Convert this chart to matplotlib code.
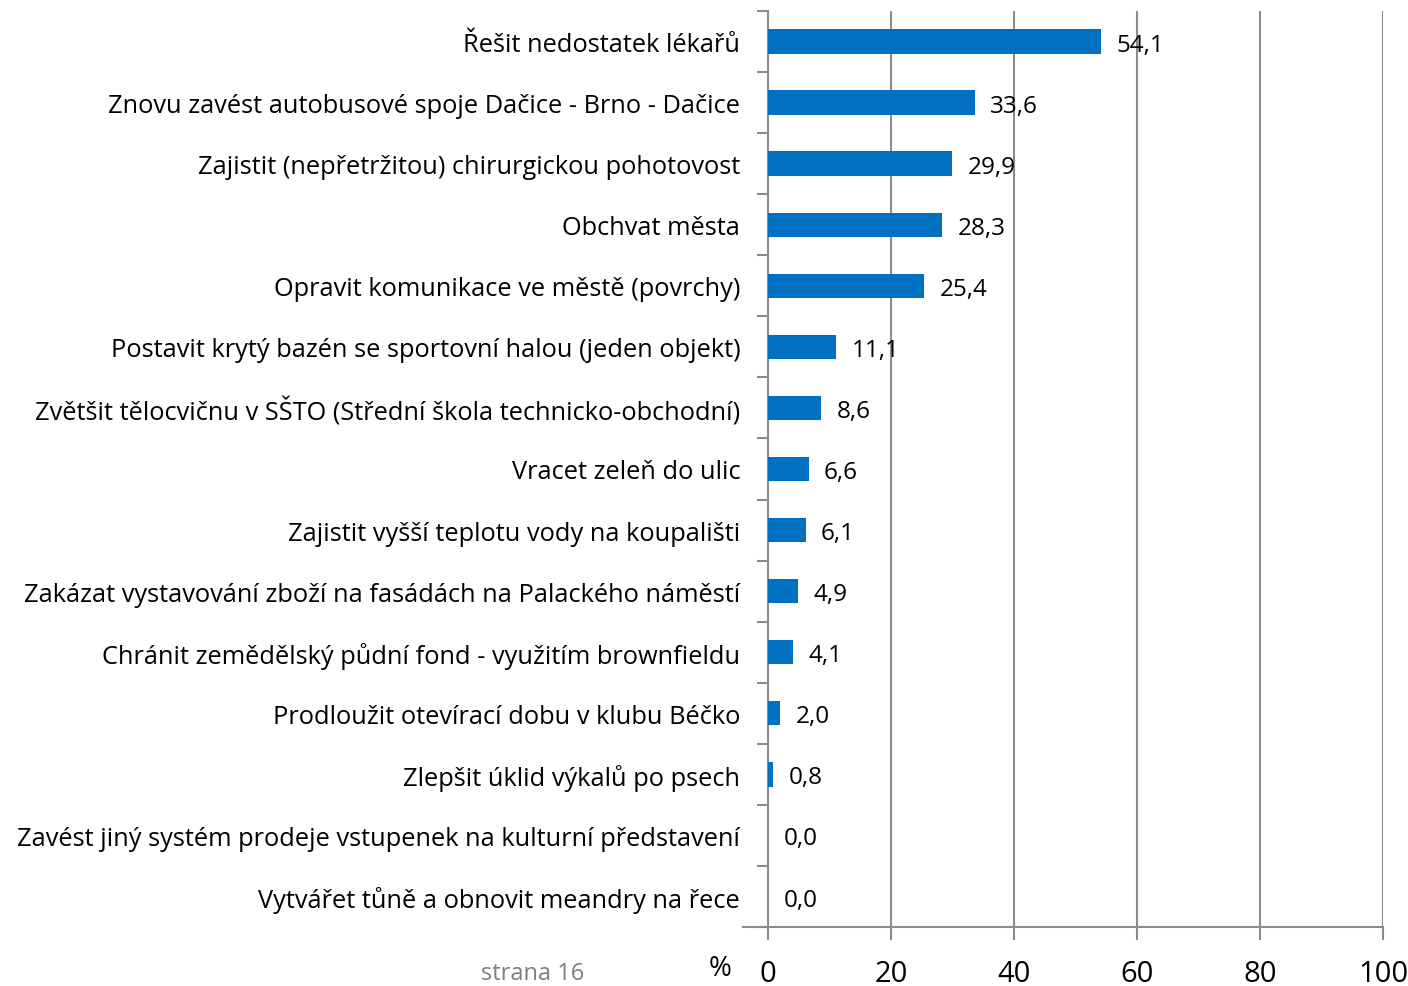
import matplotlib
matplotlib.use("Agg")
import matplotlib.pyplot as plt
import numpy as np

categories = [
    "Řešit nedostatek lékařů",
    "Znovu zavést autobusové spoje Dačice - Brno - Dačice",
    "Zajistit (nepřetržitou) chirurgickou pohotovost",
    "Obchvat města",
    "Opravit komunikace ve městě (povrchy)",
    "Postavit krytý bazén se sportovní halou (jeden objekt)",
    "Zvětšit tělocvičnu v SŠTO (Střední škola technicko-obchodní)",
    "Vracet zeleň do ulic",
    "Zajistit vyšší teplotu vody na koupališti",
    "Zakázat vystavování zboží na fasádách na Palackého náměstí",
    "Chránit zemědělský půdní fond - využitím brownfieldu",
    "Prodloužit otevírací dobu v klubu Béčko",
    "Zlepšit úklid výkalů po psech",
    "Zavést jiný systém prodeje vstupenek na kulturní představení",
    "Vytvářet tůně a obnovit meandry na řece",
]
values = [54.1, 33.6, 29.9, 28.3, 25.4, 11.1, 8.6, 6.6, 6.1, 4.9, 4.1, 2.0, 0.8, 0.0, 0.0]
xticks = [0, 20, 40, 60, 80, 100]

plt.rcParams['font.family'] = ['Open Sans', 'DejaVu Sans']
fig = plt.figure(figsize=(14.08, 9.87), dpi=100)
ax = fig.add_axes([768/1408, 1-928/987, (1383-768)/1408, (928-12)/987])

n = len(categories)
y = np.arange(n)
ax.barh(y, values, height=0.4, color="#0070C0", zorder=3)
ax.set_ylim(n - 0.5, -0.5)
ax.set_xlim(0, 100)

grid_c = "#8c8c8c"
for xv in xticks[1:]:
    ax.axvline(xv, color=grid_c, lw=1.5, zorder=1)

for s in ["top", "right"]:
    ax.spines[s].set_visible(False)
ax.spines["left"].set_color(grid_c)
ax.spines["left"].set_linewidth(1.5)
ax.spines["bottom"].set_color(grid_c)
ax.spines["bottom"].set_linewidth(1.5)
# small extension of the bottom axis line to the left of zero
ax.plot([-4, 0], [n - 0.5, n - 0.5], color=grid_c, lw=1.5, clip_on=False, zorder=2)

ax.set_yticks(np.arange(n + 1) - 0.5, minor=True)
ax.set_yticks(y)
ax.set_yticklabels(categories, fontsize=18.3)
ax.tick_params(axis="y", which="major", length=0, pad=20)
ax.tick_params(axis="y", which="minor", length=8, width=1.5, color=grid_c)
ax.set_xticks(xticks)
ax.set_xticklabels([str(t) for t in xticks], fontsize=21)
ax.tick_params(axis="x", length=9, width=1.5, color=grid_c, pad=14)

for yi, v in zip(y, values):
    ax.text(v + 2.5, yi + 0.05, f"{v:.1f}".replace(".", ","), va="center", ha="left",
            fontsize=17.5, zorder=4)

fig.text(720/1408, 1-969/987, "%", fontsize=20, ha="center", va="center")
fig.text(533/1408, 1-974/987, "strana 16", fontsize=17, color="#7f7f7f", ha="center", va="center")

fig.savefig("out.png", dpi=100)
